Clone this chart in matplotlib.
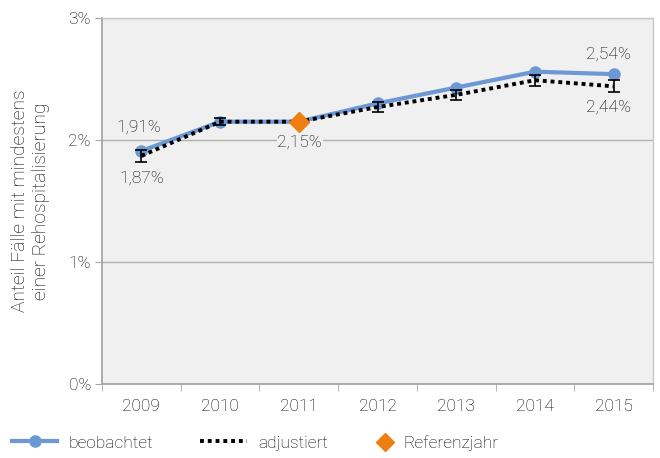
import matplotlib
matplotlib.use("Agg")
import matplotlib.pyplot as plt
from matplotlib.lines import Line2D
import numpy as np

plt.rcParams['font.family'] = ['Roboto', 'DejaVu Sans']
plt.rcParams['font.weight'] = 'light'
plt.rcParams['axes.labelweight'] = 'light'

years = ["2009", "2010", "2011", "2012", "2013", "2014", "2015"]
observed = [1.91, 2.15, 2.15, 2.30, 2.43, 2.56, 2.54]
adjusted = [1.87, 2.15, 2.15, 2.27, 2.37, 2.49, 2.44]
adj_err = [0.05, 0.03, 0.0, 0.04, 0.04, 0.045, 0.05]
ref_year_index = 2
ref_value = 2.15

fs = 12.5
tc = '#000000'

fig = plt.figure(figsize=(6.6, 4.58), dpi=100)
ax = fig.add_axes([102/660, 1-384/458, 551/660, 366/458])
ax.set_facecolor('#F0F0F0')
x = np.arange(len(years))

ax.set_xlim(-0.5, len(years)-0.5)
ax.set_ylim(0, 3)
ax.set_yticks([0, 1, 2, 3])
ax.set_yticklabels(["0%", "1%", "2%", "3%"])
ax.yaxis.grid(True, color='#B0B0B0', lw=1)
ax.set_axisbelow(True)
ax.set_xticks(x)
ax.set_xticklabels(years)
ax.set_xticks(np.arange(-0.5, len(years)), minor=True)
ax.tick_params(axis='x', which='major', length=0, labelsize=fs, pad=11, labelcolor=tc)
ax.tick_params(axis='x', which='minor', length=5, color='#A6A6A6')
ax.tick_params(axis='y', length=5, color='#A6A6A6', labelsize=fs, pad=3, labelcolor=tc)
for s in ['left', 'bottom']:
    ax.spines[s].set_color('#A6A6A6')
    ax.spines[s].set_linewidth(1.3)
for s in ['top', 'right']:
    ax.spines[s].set_color('#C8C8C8')
    ax.spines[s].set_linewidth(1)

ax.set_ylabel("Anteil Fälle mit mindestens\neiner Rehospitalisierung", fontsize=13.8,
              color=tc, linespacing=1.2, fontweight='light')
ax.yaxis.set_label_coords(-0.094, 0.5)

blue = '#6C98D3'
ax.plot(x, observed, color=blue, lw=3, marker='o', ms=8, zorder=3)
ax.plot(x, adjusted, color='black', lw=2.8, linestyle=(0, (1, 1)), zorder=4)
ax.errorbar(x, adjusted, yerr=adj_err, fmt='none', ecolor='black', elinewidth=1.2,
            capsize=4, capthick=1.2, zorder=5)
ax.plot([x[ref_year_index]], [ref_value], marker='D', color='#F07F12', ms=10, lw=0, zorder=6)

def lab(txt, xi, yv, dx, dy, bg=False):
    kw = {}
    if bg:
        kw['bbox'] = dict(facecolor='#F0F0F0', edgecolor='none', pad=0.5)
    ax.annotate(txt, (xi, yv), xytext=(dx*0.72, dy*0.72), textcoords='offset points',
                ha='center', va='center', fontsize=fs, color=tc, **kw)

lab("1,91%", x[0], observed[0], -3, 24)
lab("1,87%", x[0], adjusted[0], 0, -22)
lab("2,15%", x[2], ref_value, 1, -20, bg=True)
lab("2,54%", x[6], observed[6], -5, 20)
lab("2,44%", x[6], adjusted[6], -5, -21)

ly = 1 - 443/458
common = dict(loc='center left', frameon=False, fontsize=fs, borderpad=0,
              borderaxespad=0, labelcolor=tc)
fig.legend([Line2D([], [], color=blue, lw=3, marker='o', ms=8)], ["beobachtet"],
           bbox_to_anchor=(12/660, ly), handlelength=2.6, handletextpad=0.65, **common)
fig.legend([Line2D([], [], color='black', lw=2.8, linestyle=(0, (1, 1)))], ["adjustiert"],
           bbox_to_anchor=(200/660, ly), handlelength=2.7, handletextpad=0.65, **common)
fig.legend([Line2D([], [], color='#F07F12', marker='D', ms=9, lw=0)], ["Referenzjahr"],
           bbox_to_anchor=(376/660, ly), handlelength=1.0, handletextpad=0.55, **common)

fig.savefig("out.png", dpi=100)
